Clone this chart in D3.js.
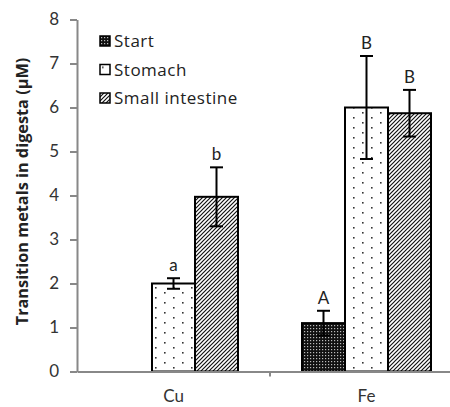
<!DOCTYPE html>
<html>
<head>
<meta charset="utf-8">
<script src="https://cdn.jsdelivr.net/npm/d3@7"></script>
<style>
  body { margin: 0; background: #fff; }
  text { font-family: Lato, "Open Sans", sans-serif; }
</style>
</head>
<body>
<svg id="chart" width="450" height="407"></svg>
<script>
const width = 450,
    height = 407

// data
const metals = ["Cu", "Fe"]
const series = ["Start", "Stomach", "Small intestine"]
const startVals = [null, 1.1]
const stomachVals = [2.0, 6.0]
const intestineVals = [3.97, 5.87]
const startErr = [null, 0.28]
const stomachErr = [0.12, 1.17]
const intestineErr = [0.67, 0.53]
const startLetters = ["", "A"]
const stomachLetters = ["a", "B"]
const intestineLetters = ["b", "B"]
const yTicks = [0, 1, 2, 3, 4, 5, 6, 7, 8]

const fills = ["url(#pat-start)", "url(#pat-stomach)", "url(#pat-intestine)"]

const rows = []
metals.forEach((m, i) => {
    const v = [startVals[i], stomachVals[i], intestineVals[i]]
    const e = [startErr[i], stomachErr[i], intestineErr[i]]
    const l = [startLetters[i], stomachLetters[i], intestineLetters[i]]
    series.forEach((s, j) => {
        if (v[j] !== null) rows.push({metal: m, series: s, value: v[j], err: e[j], letter: l[j], k: j})
    })
})

const svg = d3.select("#chart")

// patterns
const defs = svg.append("defs")
const p1 = defs.append("pattern").attr("id", "pat-start")
    .attr("patternUnits", "userSpaceOnUse").attr("width", 3).attr("height", 3)
p1.append("rect").attr("width", 3).attr("height", 3).attr("fill", "#111")
p1.append("rect").attr("x", 1).attr("y", 1).attr("width", 1.2).attr("height", 1.2).attr("fill", "#bbb")

const p2 = defs.append("pattern").attr("id", "pat-stomach")
    .attr("patternUnits", "userSpaceOnUse").attr("width", 18).attr("height", 10)
p2.append("rect").attr("width", 18).attr("height", 10).attr("fill", "#fff")
p2.append("rect").attr("x", 2).attr("y", 2).attr("width", 1.6).attr("height", 1.6).attr("fill", "#333")
p2.append("rect").attr("x", 11).attr("y", 7).attr("width", 1.6).attr("height", 1.6).attr("fill", "#333")

const p3 = defs.append("pattern").attr("id", "pat-intestine")
    .attr("patternUnits", "userSpaceOnUse").attr("width", 4).attr("height", 4)
p3.append("rect").attr("width", 4).attr("height", 4).attr("fill", "#fff")
p3.append("path").attr("d", "M-1,1 l2,-2 M0,4 l4,-4 M3,5 l2,-2")
    .attr("stroke", "#111").attr("stroke-width", 1.2)

// scales
const x0 = d3.scaleBand().domain(metals).range([77, 463])
const x1 = d3.scaleBand().domain(series).range([32, 161])
const y = d3.scaleLinear().domain([0, 8]).range([371.5, 19.5])

// y axis
const yAxis = d3.axisLeft(y).tickValues(yTicks).tickSize(7).tickSizeOuter(0).tickPadding(11)
const gy = svg.append("g").attr("transform", "translate(77,0)").call(yAxis)
gy.select(".domain").attr("stroke", "#888").attr("stroke-width", 2)
gy.selectAll(".tick line").attr("stroke", "#888").attr("stroke-width", 2)
gy.selectAll(".tick text").attr("fill", "#333").attr("font-size", 17)
    .style("font-family", "Lato, sans-serif")

svg.append("text")
    .attr("transform", "translate(28,191.5) rotate(-90)")
    .attr("text-anchor", "middle")
    .attr("font-size", 16.3)
    .attr("font-weight", "bold")
    .attr("fill", "#222")
    .style("font-family", "'Open Sans', sans-serif")
    .text("Transition metals in digesta (\u03bcM)")

// bars
const bars = svg.append("g")
bars.selectAll("rect")
    .data(rows)
    .enter()
    .append("rect")
    .attr("x", d => x0(d.metal) + x1(d.series))
    .attr("y", d => y(d.value))
    .attr("width", x1.bandwidth())
    .attr("height", d => y(0) - y(d.value))
    .attr("fill", d => fills[d.k])
    .attr("stroke", "#000")
    .attr("stroke-width", 2)

// error bars
const cx = d => x0(d.metal) + x1(d.series) + x1.bandwidth() / 2
const eb = svg.append("g").attr("stroke", "#000").attr("stroke-width", 2)
eb.selectAll(".v").data(rows).enter().append("line")
    .attr("x1", cx).attr("x2", cx)
    .attr("y1", d => y(d.value + d.err)).attr("y2", d => y(d.value - d.err))
eb.selectAll(".t").data(rows).enter().append("line")
    .attr("x1", d => cx(d) - 6.5).attr("x2", d => cx(d) + 6.5)
    .attr("y1", d => y(d.value + d.err)).attr("y2", d => y(d.value + d.err))
eb.selectAll(".b").data(rows).enter().append("line")
    .attr("x1", d => cx(d) - 6.5).attr("x2", d => cx(d) + 6.5)
    .attr("y1", d => y(d.value - d.err)).attr("y2", d => y(d.value - d.err))

// significance letters
svg.append("g").selectAll("text").data(rows).enter().append("text")
    .attr("x", cx)
    .attr("y", d => y(d.value + d.err) - 7)
    .attr("text-anchor", "middle")
    .attr("font-size", 17)
    .attr("fill", "#222")
    .text(d => d.letter)

// x axis
const xAxis = d3.axisBottom(x0).tickSize(0).tickPadding(18).tickSizeOuter(0)
const gx = svg.append("g").attr("transform", `translate(0,${y(0)})`).call(xAxis)
gx.select(".domain").attr("stroke", "#888").attr("stroke-width", 2)
gx.selectAll(".tick text").attr("fill", "#333").attr("font-size", 17)
    .style("font-family", "Lato, sans-serif")
// divider tick between categories
gx.append("line").attr("x1", x0("Fe")).attr("x2", x0("Fe")).attr("y1", 0).attr("y2", 5)
    .attr("stroke", "#888").attr("stroke-width", 2)

// legend
const legend = svg.append("g").attr("transform", "translate(100,36)")
const li = legend.selectAll("g").data(series).enter().append("g")
    .attr("transform", (d, i) => `translate(0,${i * 28.5})`)
li.append("rect").attr("width", 10).attr("height", 10)
    .attr("fill", (d, i) => fills[i]).attr("stroke", "#000").attr("stroke-width", 1.5)
li.append("text").attr("x", 14).attr("y", 11)
    .attr("font-size", 17).attr("fill", "#222")
    .attr("letter-spacing", 0.5)
    .style("font-family", "'Open Sans', sans-serif")
    .text(d => d)
</script>
</body>
</html>
